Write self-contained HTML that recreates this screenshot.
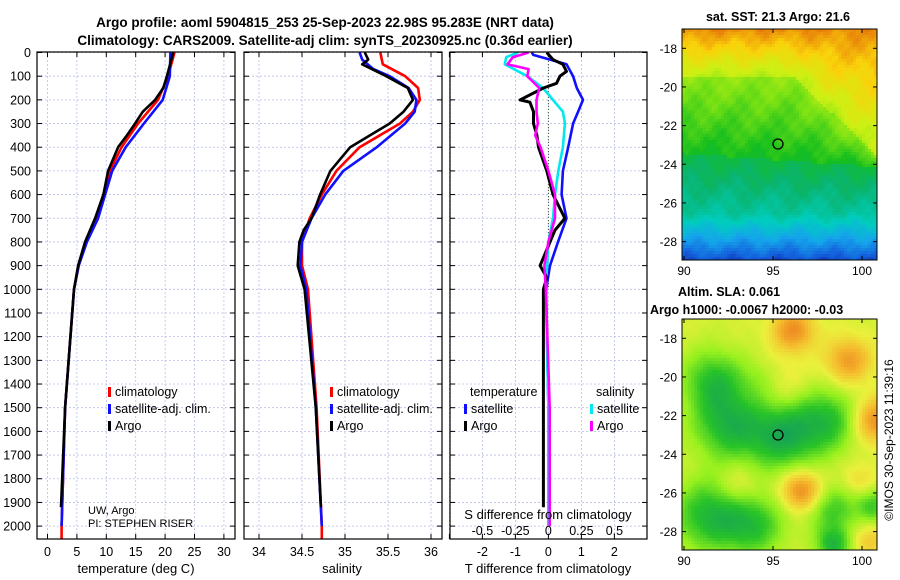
<!DOCTYPE html>
<html><head><meta charset="utf-8">
<style>
html,body{margin:0;padding:0;background:#fff;}
svg{display:block;font-family:"Liberation Sans","DejaVu Sans",sans-serif;}
</style></head>
<body>
<svg id="chart" width="900" height="580" viewBox="0 0 900 580" xmlns="http://www.w3.org/2000/svg">
<text x="325" y="27" font-size="13.5" font-weight="bold" text-anchor="middle">Argo profile: aoml 5904815_253 25-Sep-2023 22.98S 95.283E (NRT data)</text>
<text x="325" y="45" font-size="13.5" font-weight="bold" text-anchor="middle">Climatology: CARS2009. Satellite-adj clim: synTS_20230925.nc (0.36d earlier)</text>
<g id="maps"></g>
<g id="panels"></g>
<text x="778" y="21" font-size="12.5" font-weight="bold" text-anchor="middle">sat. SST: 21.3 Argo: 21.6</text>
<text x="678" y="296" font-size="12.5" font-weight="bold">Altim. SLA: 0.061</text>
<text x="650" y="314" font-size="12.5" font-weight="bold">Argo h1000: -0.0067 h2000: -0.03</text>
<text transform="translate(893,440) rotate(-90)" font-size="12" text-anchor="middle">©IMOS 30-Sep-2023 11:39:16</text>
</svg>
<script>
// ---------- data ----------
const depthT = [0,100,150,200,250,300,350,400,500,600,700,800,900,1000,1500,1920];
const argoTemp = [21.4,20.3,19.7,18.3,16.2,14.9,13.5,12.0,10.3,9.5,8.1,6.4,5.2,4.5,3.0,2.3];
const depthC = [0,100,200,300,400,500,600,700,800,900,1000,1500,2000,2055];
const climTemp = [21.6,20.5,18.8,15.4,12.6,10.6,9.5,8.3,6.6,5.3,4.5,3.0,2.4,2.4];
const depthB = [0,100,200,300,400,500,600,700,800,900,1000,1500,2000];
const satTemp = [20.9,20.8,19.6,16.4,13.3,11.0,9.8,8.6,6.7,5.3,4.5,3.0,2.4];

const depthSA = [0,30,50,100,150,200,250,300,350,400,500,600,700,750,800,900,1000,1500,1920];
const argoSal = [35.23,35.27,35.2,35.48,35.73,35.79,35.68,35.52,35.29,35.06,34.83,34.71,34.61,34.52,34.47,34.45,34.53,34.66,34.72];
const depthSC = [0,50,100,150,200,250,300,400,500,600,700,800,900,1000,1500,2000,2055];
const climSal = [35.41,35.44,35.70,35.85,35.87,35.79,35.64,35.17,34.90,34.73,34.59,34.5,34.5,34.57,34.67,34.73,34.73];
const depthSB = [0,30,70,100,150,200,250,300,400,500,600,700,800,900,1000,1500,2000];
const satSal = [35.17,35.2,35.33,35.52,35.74,35.83,35.81,35.70,35.37,34.98,34.77,34.61,34.5,34.48,34.55,34.66,34.73];

const depthDT = [0,10,50,100,150,200,250,300,400,500,600,700,800,900,1000,1500,2000];
const satTdiff = [-0.5,-0.46,0.55,0.75,0.86,1.05,0.9,0.75,0.6,0.44,0.4,0.55,0.29,0.05,-0.07,0.0,0.0];
const depthDA = [0,30,50,80,100,130,150,200,210,250,300,350,400,500,600,700,750,800,900,950,1000,1500,1920];
const argoTdiff = [-0.05,0.14,0.44,0.55,0.35,0.25,-0.15,-0.86,-0.56,-0.45,-0.45,-0.35,-0.3,-0.05,0.14,0.5,0.2,0.05,-0.25,-0.05,-0.15,-0.15,-0.15];
const depthDS = [0,20,50,100,150,200,250,300,400,500,600,700,800,900,1000,1500,2000];
const satSdiff = [-0.23,-0.32,-0.33,-0.16,-0.04,0.035,0.11,0.125,0.11,0.075,0.05,0.035,0,-0.01,-0.02,0,0];
const depthDM = [0,20,50,70,100,150,200,250,300,350,400,500,600,700,800,900,1000,1500,2000];
const argoSdiff = [-0.15,-0.27,-0.31,-0.15,-0.16,-0.07,-0.09,-0.09,-0.08,-0.1,-0.06,0,0.05,0.05,0,-0.03,-0.02,0.01,0.01];

const depthTicks = [0,100,200,300,400,500,600,700,800,900,1000,1100,1200,1300,1400,1500,1600,1700,1800,1900,2000];
const tempTicks = [0,5,10,15,20,25,30];
const salTicks = [34,34.5,35,35.5,36];
const salTickLabels = ["34","34.5","35","35.5","36"];
const tdiffTicks = [-2,-1,0,1,2];
const sdiffTickLabels = ["-0.5","-0.25","0","0.25","0.5"];
const sdiffTicks = [-0.5,-0.25,0,0.25,0.5];

// SLA map blobs: [lonRelPx, latRelPx, amplitude, radius]
const slaBlobs = [[30,60,-0.35,22],[45,105,-0.4,25],[100,115,-0.45,25],[145,100,-0.35,22],[80,60,-0.15,15],[25,195,-0.4,25],[70,205,-0.35,22],[150,190,-0.3,18],[190,185,-0.3,12],[150,225,-0.4,12],
  [110,10,0.4,15],[165,40,0.35,16],[192,100,0.4,16],[118,170,0.45,14],[95,65,0.15,18],[55,165,0.15,14],[175,160,0.15,12],[185,220,0.2,12]];

// ---------- helpers ----------
const NS = "http://www.w3.org/2000/svg";
function mk(tag, attrs, parent){const e=document.createElementNS(NS,tag);for(const k in attrs)e.setAttribute(k,attrs[k]);parent.appendChild(e);return e;}
const yD = d => 52.5 + 0.2368*d;
const pTop = 52, pBot = 539;
const panelsG = document.getElementById('panels');

function panel(name){
  const g = mk('g',{},panelsG);
  
  
  return g;
}
function grid(g,x0,x1,xs,ticksX){
  depthTicks.forEach(d=>{
    const l=mk('line',{x1:x0,x2:x1,y1:yD(d),y2:yD(d),stroke:'#b8bde8','stroke-width':0.8,'stroke-dasharray':'2,2'},g);
    
    
    mk('line',{x1:x0,x2:x0+5,y1:yD(d),y2:yD(d),stroke:'#000'},g);
    mk('line',{x1:x1-5,x2:x1,y1:yD(d),y2:yD(d),stroke:'#000'},g);
  });
  ticksX.forEach(v=>{
    const x=xs(v);
    const l=mk('line',{x1:x,x2:x,y1:pTop,y2:pBot,stroke:'#b8bde8','stroke-width':0.8,'stroke-dasharray':'2,2'},g);
    
    
    mk('line',{x1:x,x2:x,y1:pBot-5,y2:pBot,stroke:'#000'},g);
    mk('line',{x1:x,x2:x,y1:pTop,y2:pTop+5,stroke:'#000'},g);
  });
}
function drawFrame(g,x0,x1){
  const r=mk('rect',{x:x0,y:pTop,width:x1-x0,height:pBot-pTop,fill:'none',stroke:'#000','stroke-width':1.2},g);
  
  
}
function drawLine(g,depths,vals,xs,color,name,w){
  const pts=depths.map((d,i)=>xs(vals[i]).toFixed(1)+','+yD(d).toFixed(1)).join(' ');
  const p=mk('polyline',{points:pts,fill:'none',stroke:color,'stroke-width':w||2.6,'stroke-linejoin':'round'},g);
  
  
}
function txt(g,x,y,s,name,opts){
  const t=mk('text',Object.assign({x:x,y:y,'font-size':12.5},opts||{}),g);
  t.textContent=s;
  
  
  return t;
}
function legendEntry(g,x,y,color,label){
  const m=mk('rect',{x:x,y:y-9,width:3,height:10,fill:color},g);
  
  
  txt(g,x+7,y,label,'legend-entry',{'font-size':12.5});
}

// ---------- panel 1: temperature ----------
const xT = v => 47.5 + 5.88*v;
const g1 = panel('temperature-panel');
grid(g1,37,235,xT,tempTicks);
drawLine(g1,depthC,climTemp,xT,'#ff0000','climatology-temp-line');
drawLine(g1,depthB,satTemp,xT,'#1010ff','satellite-temp-line');
drawLine(g1,depthT,argoTemp,xT,'#000','argo-temp-line');
drawFrame(g1,37,235);
depthTicks.forEach(d=>txt(g1,31,yD(d)+4.5,String(d),'depth-tick-label',{'text-anchor':'end','font-size':12.5}));
tempTicks.forEach(v=>txt(g1,xT(v),556,String(v),'temp-tick-label',{'text-anchor':'middle'}));
txt(g1,136,573,'temperature (deg C)','temp-axis-title',{'text-anchor':'middle','font-size':13});
legendEntry(g1,108,396,'#ff0000','climatology');
legendEntry(g1,108,413,'#1010ff','satellite-adj. clim.');
legendEntry(g1,108,430,'#000','Argo');
txt(g1,88,514,'UW, Argo','credit-line-1',{'font-size':11});
txt(g1,88,527,'PI: STEPHEN RISER','credit-line-2',{'font-size':11});

// ---------- panel 2: salinity ----------
const xS = v => 259 + 86*(v-34);
const g2 = panel('salinity-panel');
grid(g2,244,442,xS,salTicks);
drawLine(g2,depthSC,climSal,xS,'#ff0000','climatology-sal-line');
drawLine(g2,depthSB,satSal,xS,'#1010ff','satellite-sal-line');
drawLine(g2,depthSA,argoSal,xS,'#000','argo-sal-line');
drawFrame(g2,244,442);
salTicks.forEach((v,i)=>txt(g2,xS(v),556,salTickLabels[i],'sal-tick-label',{'text-anchor':'middle'}));
txt(g2,342,573,'salinity','sal-axis-title',{'text-anchor':'middle','font-size':13});
legendEntry(g2,330,396,'#ff0000','climatology');
legendEntry(g2,330,413,'#1010ff','satellite-adj. clim.');
legendEntry(g2,330,430,'#000','Argo');

// ---------- panel 3: differences ----------
const xDT = v => 548.4 + 33*v;
const xDS = v => 548.4 + 132*v;
const g3 = panel('difference-panel');
grid(g3,450,647,xDT,[-3,-2,-1,0,1,2]);
const zl=mk('line',{x1:548.4,x2:548.4,y1:pTop,y2:yD(1000),stroke:'#3a5a2a','stroke-width':1,'stroke-dasharray':'1,2'},g3);


drawLine(g3,depthDT,satTdiff,xDT,'#1010ff','satellite-tdiff-line');
drawLine(g3,depthDS,satSdiff,xDS,'#00e8f0','satellite-sdiff-line');
drawLine(g3,depthDA,argoTdiff,xDT,'#000','argo-tdiff-line',3);
drawLine(g3,depthDM,argoSdiff,xDS,'#ff00ff','argo-sdiff-line');
drawFrame(g3,450,647);
tdiffTicks.forEach(v=>txt(g3,xDT(v),556,String(v),'tdiff-tick-label',{'text-anchor':'middle'}));
sdiffTicks.forEach((v,i)=>txt(g3,xDS(v),535,sdiffTickLabels[i],'sdiff-tick-label',{'text-anchor':'middle'}));
txt(g3,548,519,'S difference from climatology','sdiff-axis-title',{'text-anchor':'middle','font-size':13});
txt(g3,548,573,'T difference from climatology','tdiff-axis-title',{'text-anchor':'middle','font-size':13});
txt(g3,470,396,'temperature','legend-title-temp',{});
txt(g3,596,396,'salinity','legend-title-sal',{});
legendEntry(g3,464,413,'#1010ff','satellite');
legendEntry(g3,464,430,'#000','Argo');
legendEntry(g3,590,413,'#00e8f0','satellite');
legendEntry(g3,590,430,'#ff00ff','Argo');

// ---------- maps ----------
const mapsG=document.getElementById('maps');
function lerpC(a,b,t){return a.map((v,i)=>Math.round(v+(b[i]-v)*t));}
function pal(stops,v){v=Math.max(0,Math.min(0.999,v));const n=stops.length-1;const i=Math.floor(v*n);return lerpC(stops[i],stops[i+1],v*n-i);}
const sstPal=[[230,120,10],[250,210,10],[205,240,20],[120,225,20],[20,190,30],[10,180,110],[0,205,190],[20,165,235],[20,95,220],[10,20,150]];
const slaPal=[[20,160,90],[40,195,40],[150,240,30],[235,240,60],[245,185,45],[235,130,30]];
function drawMap(x0,y0,w,h,name,fn,pl){
  const g=mk('g',{},mapsG);
  
  
  const c=3;
  for(let y=0;y<h;y+=c){for(let x=0;x<w;x+=c){
    const col=pal(pl,fn(x,y));
    mk('rect',{x:x0+x,y:y0+y,width:c+0.3,height:c+0.3,fill:'rgb('+col.join(',')+')'},g);
  }}
  mk('rect',{x:x0,y:y0,width:w,height:h,fill:'none',stroke:'#000','stroke-width':1},g);
  return g;
}
const n2=(x,y)=>0.5*Math.sin(x*0.13+y*0.09)+0.3*Math.sin(x*0.29-y*0.23+1.3)+0.2*Math.sin(x*0.53+y*0.47+2.1);
const MX=682, MW=195;
const m1=drawMap(MX,29,MW,231,'sst-map',(x,y)=>{
  const b1 = x<110 ? 46 : 46+(x-110)*0.95;
  let v;
  if(y<b1) v = 0.03 + 0.22*(y/b1);
  else {
    const b2 = 123 + x*0.07;
    if(y<b2) v = 0.3 + 0.15*(y-b1)/Math.max(1,b2-b1);
    else if(y<183) v = 0.5 + 0.12*(y-b2)/(183-b2);
    else v = 0.62 + 0.3*(y-183)/48;
  }
  return v + 0.035*n2(x,y);
},sstPal);
const m2=drawMap(MX,319,MW,231,'sla-map',(x,y)=>{
  let v=0.55;
  slaBlobs.forEach(b=>{const dx=x-b[0],dy=y-b[1];v+=b[2]*Math.exp(-(dx*dx+dy*dy)/(2*b[3]*b[3]));});
  return v+0.02*n2(x,y);
},slaPal);
function mapAxes(g,y0,h){
  [-18,-20,-22,-24,-26,-28].forEach(l=>{
    const y=y0+19.3+(-18-l)*19.33;
    mk('line',{x1:MX,x2:MX+4,y1:y,y2:y,stroke:'#000'},g);
    mk('line',{x1:MX+MW-4,x2:MX+MW,y1:y,y2:y,stroke:'#000'},g);
    txt(g,MX-5,y+4.5,String(l),'map-lat-label',{'text-anchor':'end','font-size':12});
  });
  [90,95,100].forEach(lo=>{
    const x=684+(lo-90)*17.8;
    mk('line',{x1:x,x2:x,y1:y0+h-4,y2:y0+h,stroke:'#000'},g);
    mk('line',{x1:x,x2:x,y1:y0,y2:y0+4,stroke:'#000'},g);
    txt(g,x,y0+h+15,String(lo),'map-lon-label',{'text-anchor':'middle','font-size':12});
  });
}
mapAxes(m1,29,231);
mapAxes(m2,319,231);
[[778,144,'sst-map-argo-marker'],[778,435,'sla-map-argo-marker']].forEach(p=>{
  const c=mk('circle',{cx:p[0],cy:p[1],r:5,fill:'none',stroke:'#000','stroke-width':1.3},mapsG);
  
  
});
</script>
</body></html>
